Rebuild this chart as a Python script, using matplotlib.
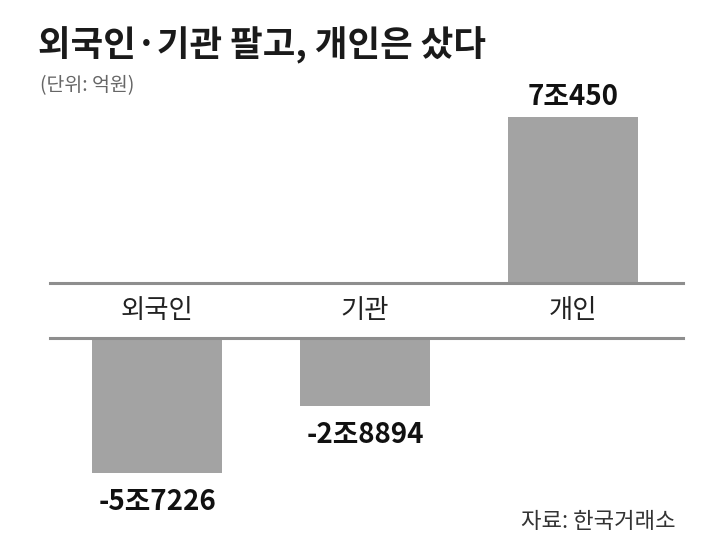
import matplotlib
matplotlib.use("Agg")
import matplotlib.pyplot as plt

plt.rcParams['font.family'] = ['Noto Sans CJK KR', 'DejaVu Sans']

# data (단위: 억원)
categories = ['외국인', '기관', '개인']
values = [-57226, -28894, 70450]
value_labels = ['-5조7226', '-2조8894', '7조450']

title = '외국인·기관 팔고, 개인은 샀다'
unit = '(단위: 억원)'
source = '자료: 한국거래소'

BAR_COLOR = '#a3a3a3'
LINE_COLOR = '#8e8e8e'

W, H = 720, 560
UNITS_PER_PX = 424.0      # vertical scale shared by both halves
top_line, bot_line = 283, 338   # pixel rows of the two baselines
top_edge, bot_edge = 100, 530
x_left, x_right = 50, 683

fig = plt.figure(figsize=(W / 100, H / 100), dpi=100)


def fig_box(x0, x1, y_top, y_bot):
    return [x0 / W, 1 - y_bot / H, (x1 - x0) / W, (y_bot - y_top) / H]


ax_top = fig.add_axes(fig_box(x_left, x_right, top_edge, top_line))
ax_bot = fig.add_axes(fig_box(x_left, x_right, bot_line, bot_edge))

xs = range(len(categories))
pos = [v if v > 0 else 0 for v in values]
neg = [v if v < 0 else 0 for v in values]

ax_top.bar(xs, pos, width=0.625, color=BAR_COLOR)
ax_bot.bar(xs, neg, width=0.625, color=BAR_COLOR)

ax_top.set_ylim(0, (top_line - top_edge) * UNITS_PER_PX)
ax_bot.set_ylim(-(bot_edge - bot_line) * UNITS_PER_PX, 0)
for ax in (ax_top, ax_bot):
    ax.set_xlim(-0.515, 2.53)
    ax.set_xticks([])
    ax.set_yticks([])
    for s in ax.spines.values():
        s.set_visible(False)
    ax.patch.set_alpha(0)

ax_top.spines['bottom'].set_visible(True)
ax_top.spines['bottom'].set_color(LINE_COLOR)
ax_top.spines['bottom'].set_linewidth(2.2)
ax_bot.spines['top'].set_visible(True)
ax_bot.spines['top'].set_color(LINE_COLOR)
ax_bot.spines['top'].set_linewidth(2.2)

for i, (v, lab) in enumerate(zip(values, value_labels)):
    if v > 0:
        ax_top.annotate(lab, (i, v), xytext=(0, 4), textcoords='offset points',
                        ha='center', va='bottom', fontsize=20, fontweight='bold',
                        color='#111111')
    else:
        ax_bot.annotate(lab, (i, v), xytext=(0, -11), textcoords='offset points',
                        ha='center', va='top', fontsize=20, fontweight='bold',
                        color='#111111')
    ax_top.text(i, -(bot_line - top_line) / 2 * UNITS_PER_PX, categories[i],
                ha='center', va='center', fontsize=19, color='#222222',
                clip_on=False)

fig.text(38 / W, 1 - 45 / H, title, fontsize=25.5, fontweight='bold',
         color='#1a1a1a', va='center', ha='left')
fig.text(40 / W, 1 - 86 / H, unit, fontsize=14, color='#666666',
         va='center', ha='left')
fig.text(676 / W, 1 - 522 / H, source, fontsize=16, color='#333333',
         va='center', ha='right')

fig.savefig('out.png', dpi=100, facecolor='white')
